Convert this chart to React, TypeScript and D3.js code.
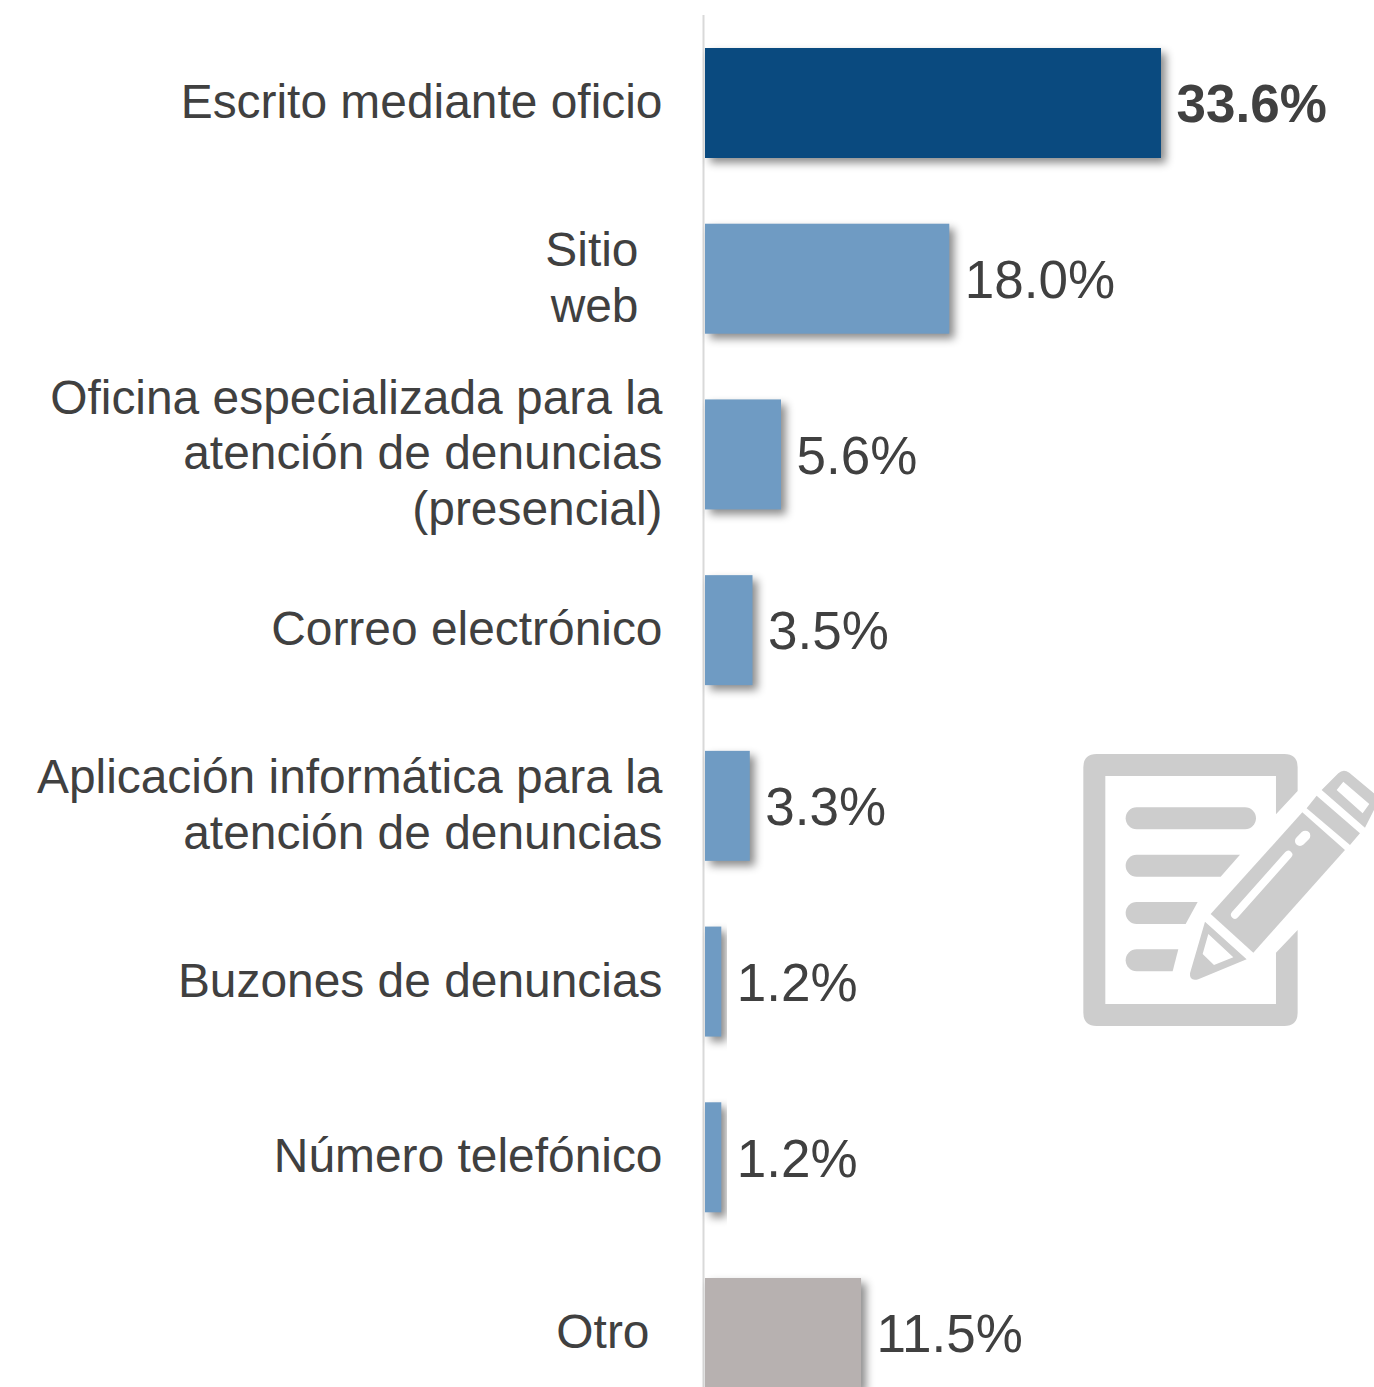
import React from "react";
import * as d3 from "d3";

const categories = [
  ["Escrito mediante oficio"],
  ["Sitio", "web"],
  ["Oficina especializada para la", "atención de denuncias", "(presencial)"],
  ["Correo electrónico"],
  ["Aplicación informática para la", "atención de denuncias"],
  ["Buzones de denuncias"],
  ["Número telefónico"],
  ["Otro"],
];
const values = [33.6, 18.0, 5.6, 3.5, 3.3, 1.2, 1.2, 11.5];
const barColors = ["#0a4a7f", "#6f9bc3", "#6f9bc3", "#6f9bc3", "#6f9bc3", "#6f9bc3", "#6f9bc3", "#b7b1b0"];
const labelInset = [0, 24, 0, 0, 0, 0, 0, 13];

const W = 1374, H = 1387;
const FONT = "'Liberation Sans', Arial, sans-serif";
const x = d3.scaleLinear().domain([0, 33.6]).range([705, 1161]);
const y = d3.scaleBand<number>().domain(d3.range(8)).range([48, 1388]).paddingInner(0.374).paddingOuter(0);
const LINE = 55.6;

function Icon() {
  return (
    <g transform="translate(1060,730) scale(0.3333)" filter="url(#soft)">
      <g fill="#cdcdcd">
        <path d="M110 72H673Q713 72 713 112V183L648 253V138H136V822H648V668L713 600V848Q713 888 673 888H110Q70 888 70 848V112Q70 72 110 72Z" />
        <rect x="197" y="232" width="391" height="66" rx="33" />
        <path d="M230 374H540L482 440H230A33 33 0 0 1 230 374Z" />
        <path d="M230 516H413L377 582H230A33 33 0 0 1 230 516Z" />
        <path d="M230 658H355L338 724H230A33 33 0 0 1 230 658Z" />
        <path d="M452 552L727 247L855 360L580 668Z" />
        <path d="M740 235L770 197L900 310L870 345Z" />
        <path fillRule="evenodd" d="M785 180L835 130Q850 115 868 128L960 205L915 293ZM850 155L830 180L908 250L928 222Z" />
        <path fillRule="evenodd" d="M435 575L560 688L415 748Q388 755 390 730ZM445 612L428 672L462 705L520 682Z" />
      </g>
      <g stroke="#fff" strokeLinecap="round">
        <line x1="525" y1="554" x2="685" y2="374" strokeWidth="24" />
        <line x1="720" y1="333" x2="736" y2="317" strokeWidth="30" />
      </g>
    </g>
  );
}

export default function App() {
  return (
    <svg width={W} height={H} viewBox={`0 0 ${W} ${H}`} style={{ position: "absolute", left: 0, top: 0, display: "block", background: "#fff" }} fontFamily={FONT}>
      <defs>
        <filter id="sh" x="-20%" y="-20%" width="150%" height="150%" colorInterpolationFilters="sRGB">
          <feDropShadow dx="5" dy="5" stdDeviation="4" floodColor="#000" floodOpacity="0.45" />
        </filter>
        <filter id="soft" x="-5%" y="-5%" width="110%" height="110%" colorInterpolationFilters="sRGB">
          <feGaussianBlur stdDeviation="1.5" />
        </filter>
      </defs>
      <line x1={703.5} x2={703.5} y1={15} y2={H} stroke="#d9d9d9" strokeWidth={2} />
      {values.map((v, i) => (
        <rect key={i} x={x(0)} y={y(i)!} width={x(v) - x(0)} height={y.bandwidth()} fill={barColors[i]} filter="url(#sh)" />
      ))}
      {values.map((v, i) => (
        <text key={i} x={x(v) + 15.5} y={y(i)! + y.bandwidth() / 2 + 19.3} fontSize={53} fontWeight={i === 0 ? 700 : 400} fill="#404040">
          {v.toFixed(1)}%
        </text>
      ))}
      {categories.map((lines, i) => {
        const cy = y(i)! + y.bandwidth() / 2;
        return lines.map((t, k) => (
          <text key={k} x={662.5 - labelInset[i]} y={cy + 15 + (k - (lines.length - 1) / 2) * LINE} textAnchor="end" fontSize={47.9} fill="#404040">
            {t}
          </text>
        ));
      })}
      <Icon />
    </svg>
  );
}
